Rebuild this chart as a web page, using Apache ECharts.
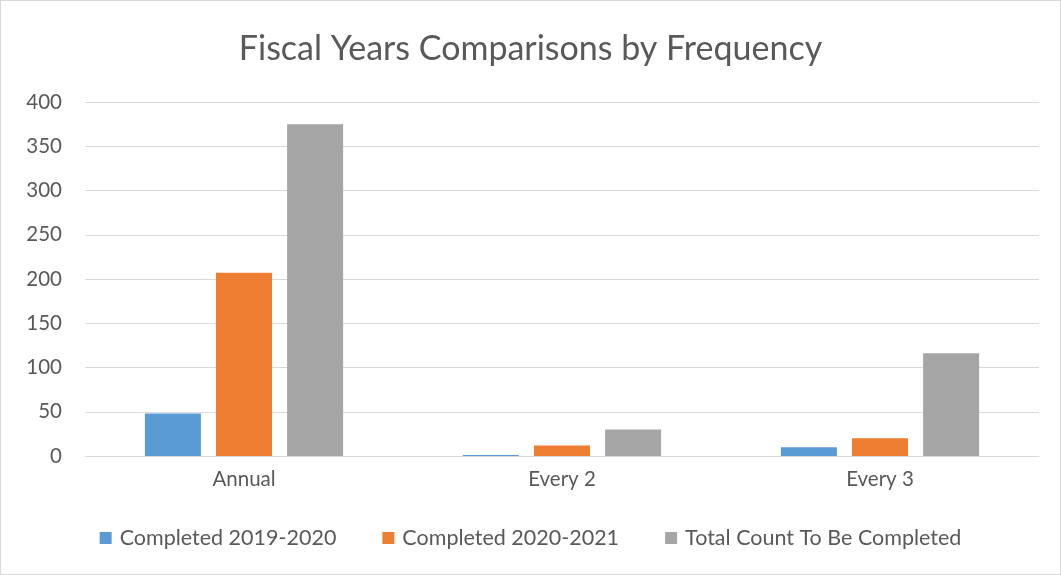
<!DOCTYPE html>
<html>
<head>
<meta charset="utf-8">
<script src="https://cdn.jsdelivr.net/npm/echarts@6/dist/echarts.min.js"></script>
<style>
html,body{margin:0;padding:0;background:#fff;}
#wrap{position:absolute;left:0;top:0;width:1059px;height:573px;border:1px solid #d9d9d9;}
#chart{width:1059px;height:573px;}
</style>
</head>
<body>
<div id="wrap"><div id="chart"></div></div>
<script>
const categories = ['Annual', 'Every 2', 'Every 3'];
const completed1920 = [48, 1, 10];
const completed2021 = [207, 12, 20];
const totalCount = [375, 30, 116];
const seriesNames = ['Completed 2019-2020', 'Completed 2020-2021', 'Total Count To Be Completed'];
const colors = ['#5b9bd5', '#ed7d31', '#a5a5a5'];

const FONT = 'Lato';
const chart = echarts.init(document.getElementById('chart'), null, {renderer: 'canvas'});
const mk = (name, data, color) => ({
  name, type: 'bar', data, barWidth: 56, barGap: '27%',
  itemStyle: {color}
});
chart.setOption({
  animation: false,
  color: colors,
  title: {
    text: 'Fiscal Years Comparisons by Frequency',
    left: 'center', top: 26,
    textStyle: {fontFamily: FONT, fontWeight: 'normal', fontSize: 34, color: '#595959'}
  },
  legend: {
    bottom: 20, left: 'center',
    itemWidth: 12, itemHeight: 12, itemGap: 46,
    icon: 'rect',
    textStyle: {fontFamily: FONT, fontSize: 21.5, color: '#595959', padding: [0, 0, 0, 3]},
    data: seriesNames
  },
  grid: {left: 84, right: 21, top: 101, bottom: 118},
  xAxis: {
    type: 'category', data: categories,
    axisLine: {lineStyle: {color: '#d9d9d9', width: 1}},
    axisTick: {show: false},
    axisLabel: {fontFamily: FONT, fontSize: 20.5, color: '#595959', margin: 13}
  },
  yAxis: {
    type: 'value', min: 0, max: 400, interval: 50,
    axisLine: {show: false}, axisTick: {show: false},
    splitLine: {lineStyle: {color: '#d9d9d9', width: 1}},
    axisLabel: {fontFamily: FONT, fontSize: 20.5, color: '#595959', margin: 23}
  },
  series: [
    mk(seriesNames[0], completed1920, colors[0]),
    mk(seriesNames[1], completed2021, colors[1]),
    mk(seriesNames[2], totalCount, colors[2])
  ]
});
</script>
</body>
</html>
